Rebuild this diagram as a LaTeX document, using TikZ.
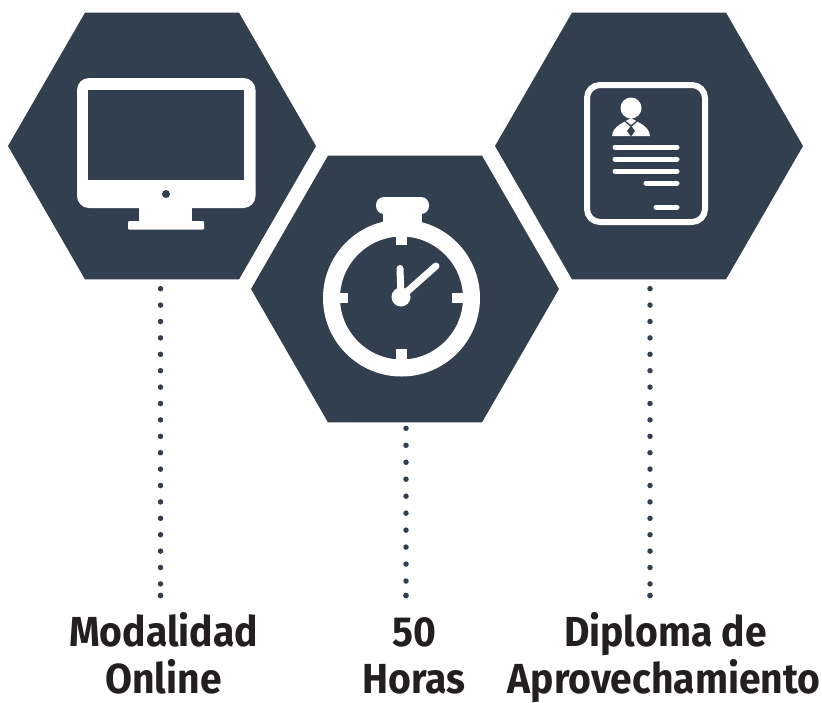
\documentclass[tikz,border=0pt]{standalone}
\usepackage{fontspec}
\setmainfont{Liberation Sans}
\newfontfamily\labfont[FakeStretch=0.93]{Fira Sans}
\usetikzlibrary{shapes.geometric}
\definecolor{navy}{HTML}{323F4F}
\definecolor{ink}{HTML}{231F20}
\tikzset{
  hexa/.style={regular polygon,regular polygon sides=6,minimum size=308pt,inner sep=0pt,outer sep=0pt,fill=navy},
  dotline/.style={navy,line width=5.5pt,line cap=round,dash pattern=on 0pt off 16.4pt},
  dotlineb/.style={navy,line width=5.5pt,line cap=round,dash pattern=on 0pt off 16.97pt},
  enddot/.style={fill=navy,draw=none},
  lab/.style={font=\labfont\bfseries\fontsize{42}{48}\selectfont,text=ink,align=center,inner sep=0pt,anchor=base},
  ico/.style={fill=white,draw=none},
  cutout/.style={fill=navy,draw=none},
  bar/.style={draw=white,line width=5pt,line cap=round},
  hand/.style={draw=white,line width=7pt,line cap=round}
}
\begin{document}
\begin{tikzpicture}[x=1pt,y=-1pt]
\useasboundingbox (0,0) rectangle (822,702);
\node[hexa] (hexL) at (162,146) {};
\node[hexa] (hexM) at (405,289) {};
\node[hexa] (hexR) at (649,146) {};
% monitor
\fill[ico,rounded corners=12pt] (77,78) rectangle (255.5,208);
\fill[cutout] (88,89.5) rectangle (244,180);
\fill[cutout] (166,194) circle (4);
\fill[ico] (139,205) rectangle (192,223);
\fill[ico,rounded corners=1pt] (128,221) rectangle (204,229.5);
% stopwatch
\fill[ico,even odd rule] (401.5,298) circle (78.5) (401.5,298) circle (61.5);
\fill[ico,rounded corners=8pt] (376,197) rectangle (429,214);
\fill[ico] (383,213) rectangle (422,224);
\fill[ico] (396,229) rectangle (407,245);
\fill[ico] (396,349) rectangle (407,364);
\fill[ico] (333,293) rectangle (348,303);
\fill[ico] (452,293) rectangle (467,303);
\fill[ico] (401,297) circle (9.5);
\draw[hand] (400,268.5) -- (401,297);
\draw[hand] (436,266) -- (401,297);
% document
\draw[white,line width=6pt,rounded corners=13pt] (587,85) rectangle (705,222);
\fill[ico] (612,136) .. controls (613,126) and (623,123) .. (631,118) .. controls (639,123) and (649,126) .. (650,136) -- cycle;
\fill[cutout] (625,120.5) -- (631,125) -- (637,120.5) -- (637,122) -- (631,127) -- (625,122) -- cycle;
\fill[ico] (631,108) circle (10.5);
\fill[cutout] (631,125.5) -- (635,131) -- (631,136.5) -- (627,131) -- cycle;
\draw[bar] (615,147) -- (677,147);
\draw[bar] (615,159) -- (677,159);
\draw[bar] (615,171) -- (677,171);
\draw[bar] (646,183) -- (677,183);
\draw[bar] (656,207) -- (677,207);
% labels
\node[lab] (labL1) at (163.5,646.5) {Modalidad};
\node[lab] (labL2) at (163.5,693.5) {Online};
\node[lab] (labM1) at (414,646.5) {50};
\node[lab] (labM2) at (414,693.5) {Horas};
\node[lab] (labR1) at (665.5,646.5) {Diploma de};
\node[lab] (labR2) at (664,693.5) {Aprovechamiento};
% connectors
\coordinate (dL1) at (160.5,288.7);
\coordinate (dL2) at (160.5,595.5);
\coordinate (dM1) at (406,428.3);
\coordinate (dM2) at (406,595.5);
\coordinate (dR1) at (650,288.7);
\coordinate (dR2) at (650,595.5);
\draw[dotline] (dL1) -- (dL2);
\draw[dotlineb] (dM1) -- (dM2);
\draw[dotline] (dR1) -- (dR2);
\fill[enddot] (dL2) circle (2.9);
\fill[enddot] (dM2) circle (2.9);
\fill[enddot] (dR2) circle (2.9);
\end{tikzpicture}
\end{document}
